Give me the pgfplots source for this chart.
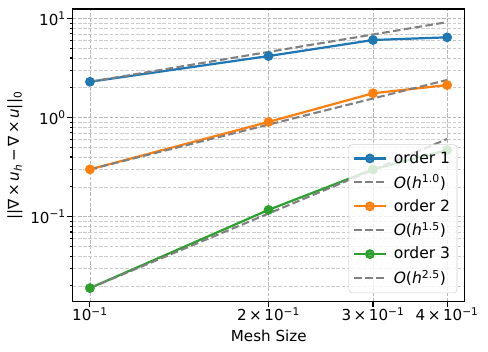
\documentclass[border=0pt]{standalone}
\usepackage{pgfplots}
\pgfplotsset{compat=1.18}
\usepackage{fontspec}
\setmainfont{DejaVu Sans}
\definecolor{c0}{HTML}{1F77B4}
\definecolor{c1}{HTML}{FF7F0E}
\definecolor{c2}{HTML}{2CA02C}
\definecolor{refc}{HTML}{808080}
\begin{document}
\begin{tikzpicture}
\begin{loglogaxis}[
 scale only axis, width=282.5pt, height=210.7pt,
 at={(0,0)}, anchor=south west,
 xmin=0.0935, xmax=0.4286, ymin=0.01387, ymax=12.47,
 font=\fontsize{10.9}{13}\selectfont,
 xtick={0.1,0.2,0.3,0.4},
 xticklabels={10\textsuperscript{−1}, 2\,×\,10\textsuperscript{−1}, 3\,×\,10\textsuperscript{−1}, 4\,×\,10\textsuperscript{−1}},
 ytick={0.1,1,10},
 yticklabels={10\textsuperscript{−1}, 10\textsuperscript{0}, 10\textsuperscript{1}},
 minor ytick={0.02,0.03,0.04,0.05,0.06,0.07,0.08,0.09,0.2,0.3,0.4,0.5,0.6,0.7,0.8,0.9,2,3,4,5,6,7,8,9},
 minor xtick={},
 xticklabel style={yshift=3.2pt},
 yticklabel style={xshift=2.5pt},
 grid=both,
 major grid style={color=black!28, line width=0.5pt, dash pattern=on 2.6pt off 1.2pt},
 minor grid style={color=black!20, line width=0.45pt, dash pattern=on 2.6pt off 1.2pt},
 tick align=outside, xtick pos=bottom, ytick pos=left,
 major tick length=3.8pt, minor tick length=2.2pt,
 tick style={black, line width=0.8pt},
 axis line style={line width=0.8pt},
 xlabel={Mesh Size},
 ylabel={||∇\,×\,\textit{u}\textsubscript{\textit{h}}\,−\,∇\,×\,\textit{u}||\textsubscript{0}},
 every axis x label/.style={at={(axis description cs:0.5,0)}, yshift=-24.8pt, anchor=center},
 every axis y label/.style={at={(axis description cs:0,0.5)}, xshift=-41.5pt, rotate=90, anchor=center},
 legend style={at={(0.9805,0.029)}, anchor=south east, draw=black!18, rounded corners=2.5pt, fill=white, fill opacity=0.8, text opacity=1, font=\fontsize{11.2}{13}\selectfont, row sep=2.6pt, column sep=3pt, inner xsep=3pt, inner ysep=3pt},
 legend cell align=left,
 legend image code/.code={\draw[mark repeat=2,mark phase=2] plot coordinates {(0cm,0cm)(0.4cm,0cm)(0.8cm,0cm)};},
]
\addplot[c0, line width=1.6pt, mark=*, mark size=2.7pt, mark options={solid}] coordinates {(0.1,2.30) (0.2,4.18) (0.3,6.07) (0.4,6.46)};
\addlegendentry{order 1}
\addplot[refc, line width=1.5pt, dash pattern=on 5.5pt off 2.4pt] coordinates {(0.1,2.30) (0.2,4.60) (0.3,6.90) (0.4,9.20)};
\addlegendentry{\textit{O}(\textit{h}\textsuperscript{1.0})}
\addplot[c1, line width=1.6pt, mark=*, mark size=2.7pt, mark options={solid}] coordinates {(0.1,0.300) (0.2,0.904) (0.3,1.76) (0.4,2.13)};
\addlegendentry{order 2}
\addplot[refc, line width=1.5pt, dash pattern=on 5.5pt off 2.4pt] coordinates {(0.1,0.300) (0.2,0.849) (0.3,1.559) (0.4,2.40)};
\addlegendentry{\textit{O}(\textit{h}\textsuperscript{1.5})}
\addplot[c2, line width=1.6pt, mark=*, mark size=2.7pt, mark options={solid}] coordinates {(0.1,0.019) (0.2,0.117) (0.3,0.30) (0.4,0.47)};
\addlegendentry{order 3}
\addplot[refc, line width=1.5pt, dash pattern=on 5.5pt off 2.4pt] coordinates {(0.1,0.019) (0.2,0.1075) (0.3,0.296) (0.4,0.608)};
\addlegendentry{\textit{O}(\textit{h}\textsuperscript{2.5})}
\end{loglogaxis}
\path (-52.3pt,-36.2pt) rectangle (299.1pt,217.2pt);
\end{tikzpicture}
\end{document}
